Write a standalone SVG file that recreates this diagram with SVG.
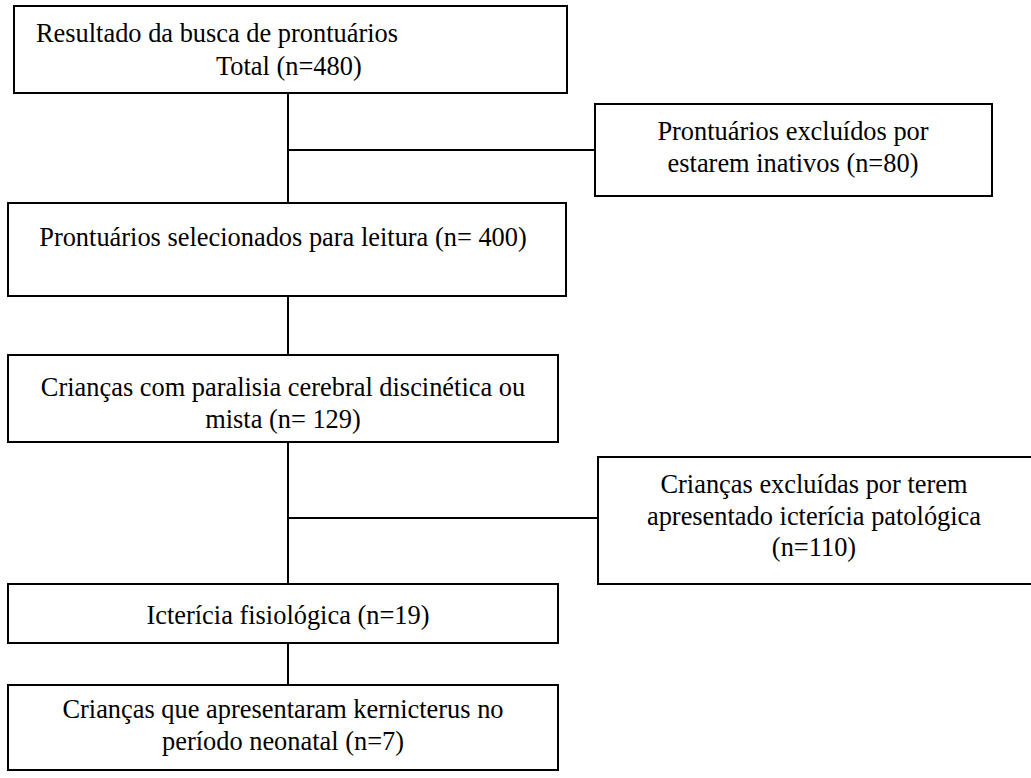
<svg xmlns="http://www.w3.org/2000/svg" width="1031" height="778" viewBox="0 0 1031 778">
<style>
.box{fill:#fff;stroke:#000;stroke-width:2}
.ln{stroke:#000;stroke-width:2;fill:none}
</style>
<rect width="1031" height="778" fill="#fff"/>
<g id="connectors">
<line class="ln" x1="288" y1="93" x2="288" y2="203"/>
<line class="ln" x1="288" y1="150" x2="595" y2="150"/>
<line class="ln" x1="288" y1="296" x2="288" y2="355"/>
<line class="ln" x1="288" y1="442" x2="288" y2="584"/>
<line class="ln" x1="288" y1="518" x2="598" y2="518"/>
<line class="ln" x1="288" y1="643" x2="288" y2="685"/>
</g>
<g font-family="Liberation Serif" font-size="26.4" fill="#000">
<g id="n1"><rect class="box" x="14" y="6" width="553" height="87"/>
<text x="36" y="42">Resultado da busca de prontuários</text>
<text x="216" y="75">Total (n=480)</text></g>
<g id="n2"><rect class="box" x="595" y="104" width="397" height="92"/>
<text text-anchor="middle" x="793" y="140">Prontuários excluídos por</text>
<text text-anchor="middle" x="793" y="172">estarem inativos (n=80)</text></g>
<g id="n3"><rect class="box" x="8" y="203" width="558" height="93"/>
<text text-anchor="middle" x="283" y="246">Prontuários selecionados para leitura (n= 400)</text></g>
<g id="n4"><rect class="box" x="8" y="355" width="550" height="87"/>
<text text-anchor="middle" x="283" y="396">Crianças com paralisia cerebral discinética ou</text>
<text text-anchor="middle" x="283" y="428">mista (n= 129)</text></g>
<g id="n5"><rect class="box" x="598" y="457" width="440" height="127"/>
<text text-anchor="middle" x="814" y="493">Crianças excluídas por terem</text>
<text text-anchor="middle" x="814" y="525">apresentado icterícia patológica</text>
<text text-anchor="middle" x="814" y="556">(n=110)</text></g>
<g id="n6"><rect class="box" x="8" y="584" width="550" height="59"/>
<text text-anchor="middle" x="288" y="624">Icterícia fisiológica (n=19)</text></g>
<g id="n7"><rect class="box" x="8" y="685" width="550" height="85"/>
<text text-anchor="middle" x="283" y="718">Crianças que apresentaram kernicterus no</text>
<text text-anchor="middle" x="283" y="750">período neonatal (n=7)</text></g>
</g>
</svg>
